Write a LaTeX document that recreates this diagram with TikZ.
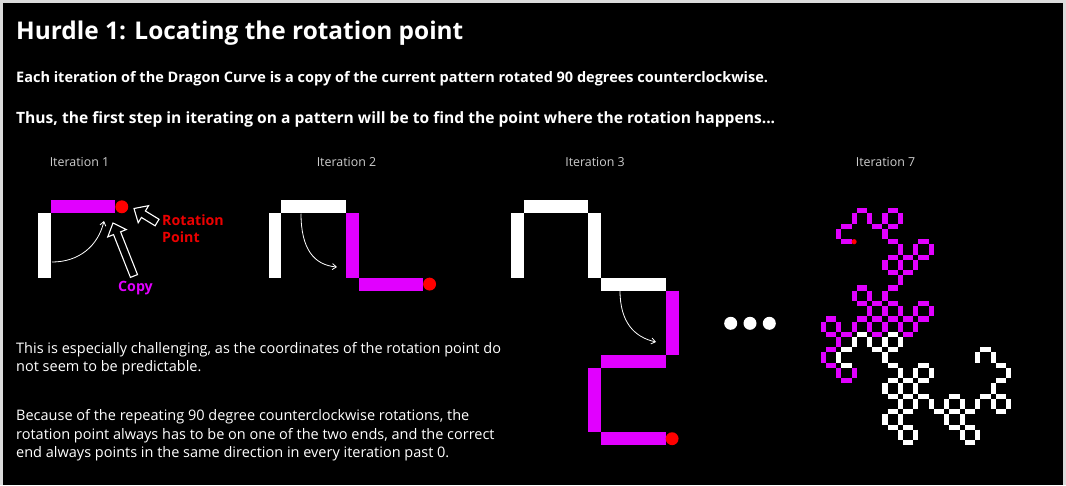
\documentclass[tikz,border=0pt]{standalone}
\usepackage{fontspec}
\setmainfont{Open Sans}
\usetikzlibrary{arrows.meta}

\definecolor{dragmag}{RGB}{225,0,255}
\definecolor{rotred}{RGB}{235,0,0}
\definecolor{labgray}{RGB}{205,205,205}

% dragon curve: segment k turns right if the odd part of k is 1 mod 4
\newcount\dragdir
\newcount\dragk
\newcount\dragq
\newcommand{\dragoncurve}[5]{% #1 segments, (#2,#3) start, #4 segment length, #5 bar width
  \global\dragdir=0
  \xdef\dragpx{#2}\xdef\dragpy{#3}
  \pgfmathtruncatemacro\draglast{#1-1}
  \pgfmathtruncatemacro\draghalf{#1/2}
  \foreach \s in {0,...,\draglast}{
    \ifnum\s>0
      \dragk=\s\relax
      \loop\unless\ifodd\dragk \divide\dragk by 2 \repeat
      \dragq=\dragk \divide\dragq by 4 \multiply\dragq by 4
      \advance\dragk by -\dragq
      \ifnum\dragk=1 \global\advance\dragdir by 1 \else \global\advance\dragdir by 3 \fi
      \ifnum\dragdir>3 \global\advance\dragdir by -4 \fi
    \fi
    \ifcase\dragdir \def\ddx{0}\def\ddy{-1}\or\def\ddx{1}\def\ddy{0}\or\def\ddx{0}\def\ddy{1}\else\def\ddx{-1}\def\ddy{0}\fi
    \pgfmathsetmacro\nx{\dragpx+#4*\ddx}
    \pgfmathsetmacro\ny{\dragpy+#4*\ddy}
    \ifnum\s<\draghalf \def\segcol{white}\else \def\segcol{dragmag}\fi
    \draw[bar=#5, \segcol] (\dragpx,\dragpy) -- (\nx,\ny);
    \xdef\dragpx{\nx}\xdef\dragpy{\ny}
  }
  \pgfmathsetmacro\dragr{#5/2}
  \fill[red] (\dragpx,\dragpy) circle[radius=\dragr pt];
}

% hollow block arrow: tip at (#1,#2), turned by #3, total length #4
\newcommand{\hollowarrow}[4]{%
  \draw[hollow, shift={(#1,#2)}, rotate=#3]
    (0,0) -- (11,10) -- (11,3.8) -- (#4,3.8) -- (#4,-3.8) -- (11,-3.8) -- (11,-10) -- cycle;
}

\begin{document}
\begin{tikzpicture}[x=1pt, y=-1pt,
  bar/.style={line width=#1pt, shorten <=#1pt/2, shorten >=#1pt/2},
  hollow/.style={draw=white, fill=black, line width=1.1pt, line join=miter},
  turn/.style={white, line width=0.8pt, -{Straight Barb[length=4pt, width=6pt]}},
  headline/.style={anchor=base west, inner sep=0pt, white, font=\bfseries\fontsize{24.4}{28}\selectfont},
  lead/.style={anchor=base west, inner sep=0pt, white, font=\bfseries\fontsize{14.5}{17}\selectfont},
  body/.style={anchor=base west, inner sep=0pt, white, font=\fontsize{14.5}{17}\selectfont},
  itlabel/.style={anchor=base, inner sep=0pt, labgray, font=\fontsize{12.4}{14}\selectfont},
  callout/.style={anchor=base west, inner sep=0pt, font=\bfseries\fontsize{14.2}{17}\selectfont}]
\useasboundingbox (0,0) rectangle (1066,485);
% ---- frame ----
\fill[black!14] (0,0) rectangle (1066,485);
\fill[black] (3,3) rectangle (1063,485);
% ---- heading ----
\node[headline] (title) at (16,39.3) {Hurdle 1: Locating the rotation point};
\node[lead] (intro) at (16,82.3) {Each iteration of the Dragon Curve is a copy of the current pattern rotated 90 degrees counterclockwise.};
\node[lead, font=\bfseries\fontsize{15.6}{17}\selectfont] (thus) at (16,123) {Thus, the first step in iterating on a pattern will be to find the point where the rotation happens...};
% ---- iteration labels ----
\node[itlabel] (lab1) at (79.5,166) {Iteration 1};
\node[itlabel] (lab2) at (346.5,166) {Iteration 2};
\node[itlabel] (lab3) at (595,166) {Iteration 3};
\node[itlabel] (lab7) at (885.5,166) {Iteration 7};
% ---- the curves ----
\dragoncurve{2}{44.5}{284.1}{77.3}{12.9}
\dragoncurve{4}{275}{284.1}{77.3}{12.9}
\dragoncurve{8}{517.5}{284.1}{77.3}{12.9}
\dragoncurve{128}{977.7}{365.3}{15.45}{5.15}
% ---- iteration 1 callouts ----
\hollowarrow{134}{208.5}{-31.3}{27}
\hollowarrow{113}{223}{-68.4}{57}
\node[callout, rotred] (rotlab) at (162,225) {Rotation};
\node[callout, rotred] (rotlab2) at (162,242.7) {Point};
\node[callout, dragmag, anchor=base] (copylab) at (135.5,291) {Copy};
% ---- rotation hints ----
\coordinate (r1a) at (52,262);
\coordinate (r1b) at (104,221);
\draw[turn] (r1a) .. controls (79,262) and (98,246) .. (r1b);
\coordinate (r2a) at (301,213.5);
\coordinate (r2b) at (337,267);
\draw[turn] (r2a) .. controls (301,249) and (314,265) .. (r2b);
\coordinate (r3a) at (620,290.5);
\coordinate (r3b) at (656,342);
\draw[turn] (r3a) .. controls (620,322) and (634,337) .. (r3b);
% ---- ellipsis ----
\foreach \x in {730.7,750,769.3}
  \fill[white] (\x,323.3) circle[radius=6.5pt];
% ---- notes ----
\node[body] (note1) at (16,353.3) {This is especially challenging, as the coordinates of the rotation point do};
\node[body] (note2) at (16,371.7) {not seem to be predictable.};
\node[body] (note3) at (16,420) {Because of the repeating 90 degree counterclockwise rotations, the};
\node[body] (note4) at (16,439) {rotation point always has to be on one of the two ends, and the correct};
\node[body] (note5) at (16,457.7) {end always points in the same direction in every iteration past 0.};
\end{tikzpicture}
\end{document}
